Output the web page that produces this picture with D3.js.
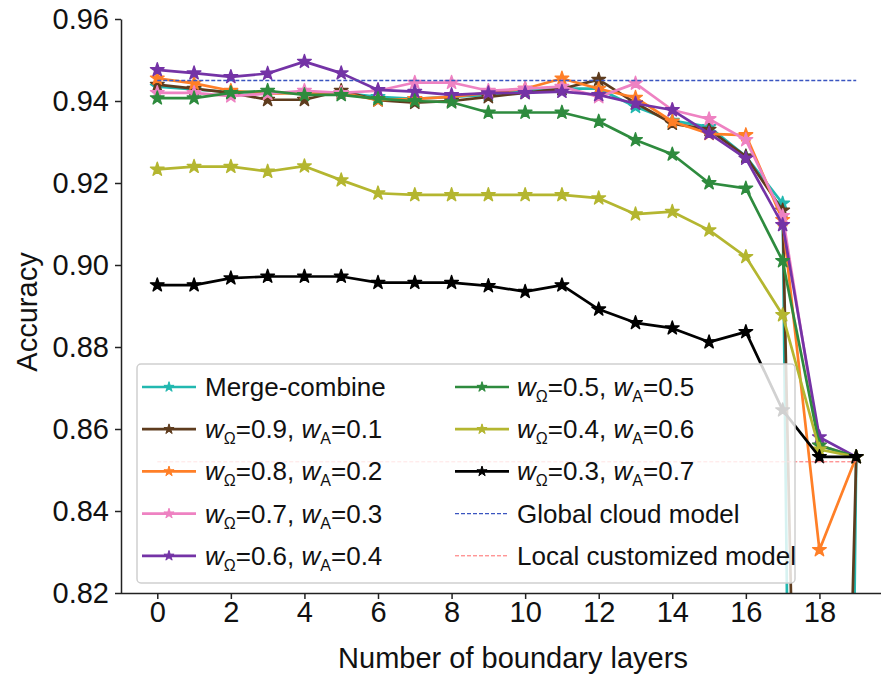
<!DOCTYPE html>
<html>
<head>
<meta charset="utf-8">
<script src="https://cdn.jsdelivr.net/npm/d3@7"></script>
<style>
  html, body { margin: 0; padding: 0; background: #fff; }
  svg { display: block; font-family: "Liberation Sans", Arial, sans-serif; }
</style>
</head>
<body>
<svg id="chart" width="881" height="675"></svg>
<script>
// ---- data ----
const layers = [0,1,2,3,4,5,6,7,8,9,10,11,12,13,14,15,16,17,18,19];
const xTicks = [0,2,4,6,8,10,12,14,16,18];
const yTicks = [0.82,0.84,0.86,0.88,0.90,0.92,0.94,0.96];

const mergeCombine = [0.9435,0.9428,0.9422,0.9420,0.9420,0.9420,0.9410,0.9405,0.9410,0.9415,0.9425,0.9430,0.9430,0.9386,0.9352,0.9337,0.9265,0.9150,0.1000,0.8532];
const w09 = [0.9440,0.9430,0.9420,0.9403,0.9403,0.9425,0.9402,0.9396,0.9400,0.9410,0.9420,0.9430,0.9452,0.9395,0.9345,0.9330,0.9265,0.9133,0.5000,0.8532];
const w08 = [0.9455,0.9443,0.9425,0.9418,0.9420,0.9420,0.9402,0.9405,0.9410,0.9420,0.9430,0.9455,0.9430,0.9408,0.9350,0.9320,0.9317,0.9110,0.8305,0.8532];
const w07 = [0.9420,0.9420,0.9412,0.9418,0.9425,0.9420,0.9425,0.9445,0.9445,0.9425,0.9430,0.9435,0.9410,0.9443,0.9378,0.9356,0.9305,0.9120,0.8560,0.8532];
const w06 = [0.9476,0.9468,0.9459,0.9467,0.9496,0.9468,0.9427,0.9423,0.9415,0.9419,0.9420,0.9423,0.9415,0.9394,0.9378,0.9321,0.9260,0.9098,0.8580,0.8532];
const w05 = [0.9407,0.9407,0.9420,0.9425,0.9415,0.9415,0.9405,0.9400,0.9397,0.9372,0.9372,0.9372,0.9350,0.9305,0.9270,0.9200,0.9187,0.9010,0.8560,0.8532];
const w04 = [0.9233,0.9240,0.9240,0.9228,0.9241,0.9207,0.9175,0.9171,0.9171,0.9171,0.9171,0.9171,0.9163,0.9124,0.9130,0.9085,0.9020,0.8878,0.8550,0.8532];
const w03 = [0.8951,0.8951,0.8968,0.8972,0.8972,0.8972,0.8957,0.8957,0.8957,0.8949,0.8935,0.8951,0.8892,0.8859,0.8846,0.8812,0.8837,0.8646,0.8532,0.8532];

const globalCloud = 0.945;
const localCustom = 0.852;

const wOmega = [null, 0.9, 0.8, 0.7, 0.6, 0.5, 0.4, 0.3];
const wA     = [null, 0.1, 0.2, 0.3, 0.4, 0.5, 0.6, 0.7];
const seriesValues = [mergeCombine, w09, w08, w07, w06, w05, w04, w03];
const seriesColors = ["#22b8b0", "#5e3c1e", "#ff7f27", "#ee82c2", "#7433a6", "#2e8b3e", "#b4b630", "#000000"];
const globalColor = "#3a55c0";
const localColor = "#ff6a6a";

// ---- layout ----
const svg = d3.select("#chart");
const x = d3.scaleLinear().domain([-1, 20]).range([120.5, 893]);
const y = d3.scaleLinear().domain([0.82, 0.96]).range([593, 19]);

svg.append("defs").append("clipPath").attr("id", "plotclip")
  .append("rect").attr("x", 121).attr("y", 0).attr("width", 760).attr("height", 593);

const plot = svg.append("g").attr("clip-path", "url(#plotclip)");
const line = d3.line().x((d, i) => x(layers[i])).y(d => y(d));
const star = d3.symbol().type(d3.symbolStar).size(58);

seriesValues.forEach((vals, k) => {
  const g = plot.append("g");
  g.append("path").datum(vals).attr("d", line)
    .attr("fill", "none").attr("stroke", seriesColors[k])
    .attr("stroke-width", 2.7).attr("stroke-linejoin", "round");
  g.selectAll("path.m").data(vals).enter().append("path").attr("class", "m")
    .attr("d", star)
    .attr("transform", (d, i) => `translate(${x(layers[i])},${y(d)})`)
    .attr("fill", seriesColors[k]).attr("stroke", seriesColors[k]).attr("stroke-width", 1.4)
    .attr("stroke-linejoin", "round");
});

// reference lines
plot.append("line")
  .attr("x1", x(layers[0])).attr("x2", x(layers[layers.length - 1]))
  .attr("y1", y(globalCloud)).attr("y2", y(globalCloud))
  .attr("stroke", globalColor).attr("stroke-width", 1.4).attr("stroke-dasharray", "4,2");
plot.append("line")
  .attr("x1", x(layers[0])).attr("x2", x(layers[layers.length - 1]))
  .attr("y1", y(localCustom)).attr("y2", y(localCustom))
  .attr("stroke", localColor).attr("stroke-width", 1).attr("stroke-dasharray", "4,2");

// axes
const xAxis = d3.axisBottom(x).tickValues(xTicks).tickFormat(d3.format("d"))
  .tickSize(6).tickSizeOuter(0).tickPadding(2);
const gx = svg.append("g").attr("transform", "translate(0,593)").call(xAxis);
gx.select(".domain").attr("d", "M121,0.5H881").attr("stroke", "#222").attr("stroke-width", 1.5);
gx.selectAll(".tick line").attr("stroke", "#222").attr("stroke-width", 1.5);
gx.selectAll(".tick text").attr("font-size", 29).attr("fill", "#111").attr("font-family", "Liberation Sans, Arial, sans-serif");

const yAxis = d3.axisLeft(y).tickValues(yTicks).tickFormat(d3.format(".2f"))
  .tickSize(6).tickSizeOuter(0).tickPadding(6);
const gy = svg.append("g").attr("transform", "translate(121,0)").call(yAxis);
gy.select(".domain").attr("stroke", "#222").attr("stroke-width", 1.5);
gy.selectAll(".tick line").attr("stroke", "#222").attr("stroke-width", 1.5);
gy.selectAll(".tick text").attr("font-size", 29).attr("fill", "#111").attr("font-family", "Liberation Sans, Arial, sans-serif");

svg.append("text").attr("x", 513).attr("y", 668).attr("text-anchor", "middle")
  .attr("font-size", 29).attr("fill", "#111").text("Number of boundary layers");
svg.append("text").attr("transform", "translate(37,312) rotate(-90)").attr("text-anchor", "middle")
  .attr("font-size", 29).attr("fill", "#111").text("Accuracy");

// legend
const leg = svg.append("g");
leg.append("rect").attr("x", 137).attr("y", 364).attr("width", 658).attr("height", 219)
  .attr("rx", 4).attr("fill", "#fff").attr("fill-opacity", 0.82)
  .attr("stroke", "#cfcfcf").attr("stroke-width", 1.5);

const rowY = i => 387 + i * 42.2;
const legStar = d3.symbol().type(d3.symbolStar).size(32);

function addLabel(g, tx, ty, k) {
  const t = g.append("text").attr("x", tx).attr("y", ty + 9).attr("font-size", 26).attr("fill", "#111");
  if (k === 0) { t.text("Merge-combine"); return; }
  t.append("tspan").attr("font-style", "italic").text("w");
  t.append("tspan").attr("font-size", 16).attr("dy", 6).text("\u03A9");
  t.append("tspan").attr("dy", -6).text("=" + wOmega[k].toFixed(1) + ", ");
  t.append("tspan").attr("font-style", "italic").text("w");
  t.append("tspan").attr("font-size", 16).attr("dy", 6).text("A");
  t.append("tspan").attr("dy", -6).text("=" + wA[k].toFixed(1));
}

seriesValues.forEach((vals, k) => {
  const col = k < 5 ? 0 : 1;
  const row = k < 5 ? k : k - 5;
  const lx = col === 0 ? 142 : 455;
  const ty = rowY(row);
  leg.append("line").attr("x1", lx).attr("x2", lx + 54).attr("y1", ty).attr("y2", ty)
    .attr("stroke", seriesColors[k]).attr("stroke-width", 2.7);
  leg.append("path").attr("d", legStar).attr("transform", `translate(${lx + 27},${ty})`)
    .attr("fill", seriesColors[k]).attr("stroke", seriesColors[k]).attr("stroke-width", 1);
  addLabel(leg, col === 0 ? 205 : 517, ty, k);
});

[["Global cloud model", globalColor, 1.2], ["Local customized model", localColor, 1]].forEach((r, j) => {
  const ty = rowY(3 + j);
  leg.append("line").attr("x1", 455).attr("x2", 509).attr("y1", ty).attr("y2", ty)
    .attr("stroke", r[1]).attr("stroke-width", r[2]).attr("stroke-dasharray", "4,2");
  leg.append("text").attr("x", 517).attr("y", ty + 9).attr("font-size", 26).attr("fill", "#111").text(r[0]);
});
</script>
</body>
</html>
